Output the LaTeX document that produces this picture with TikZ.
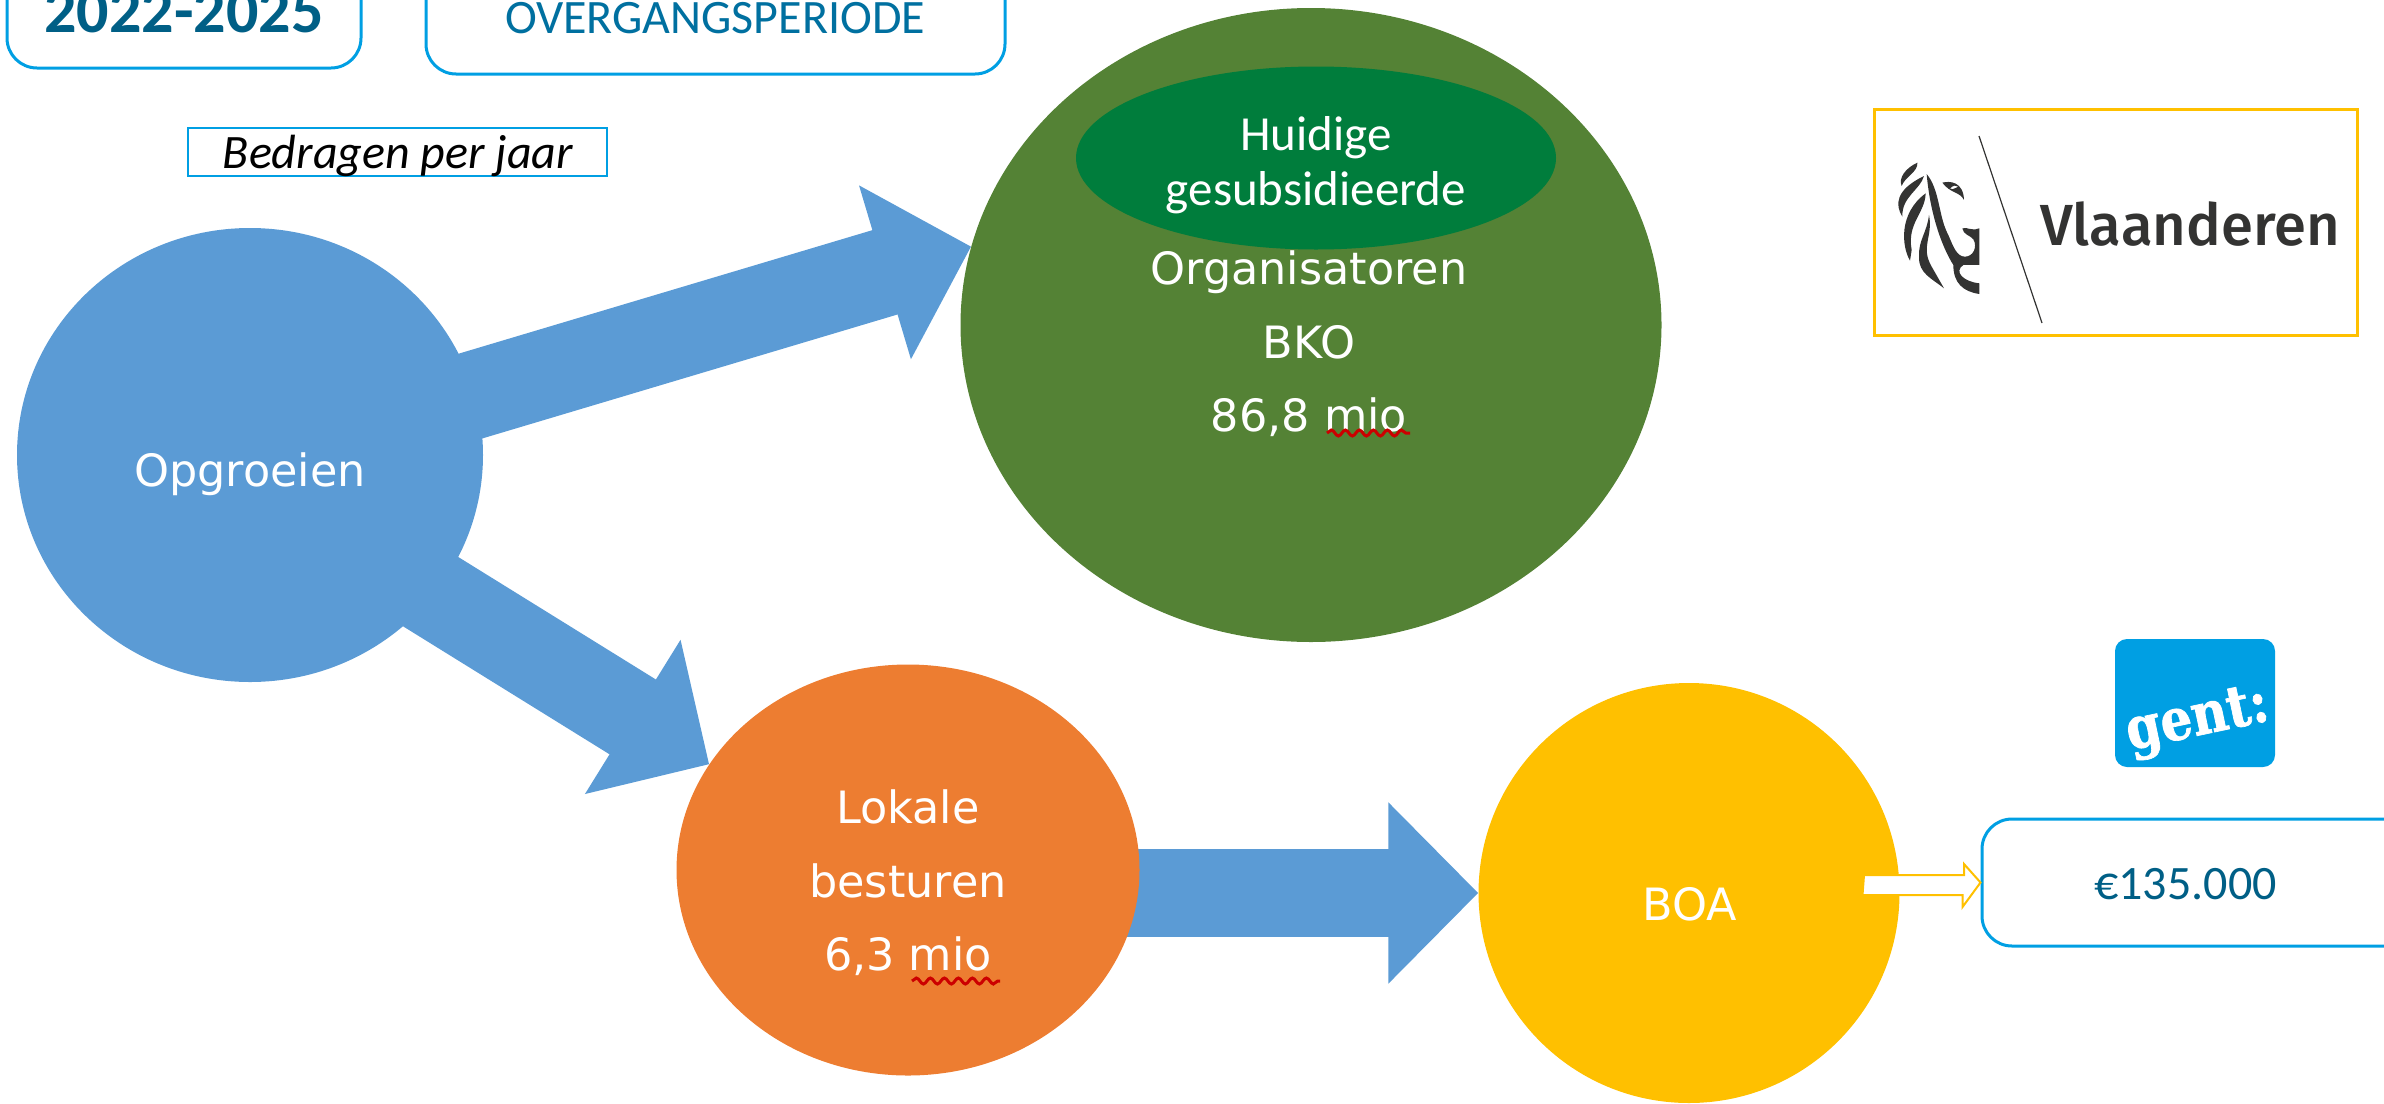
\documentclass[tikz,border=0pt]{standalone}
\usepackage{fontspec}
\setmainfont{Carlito}
\newfontfamily\verdanafont{DejaVu Sans}
\newfontfamily\logofont{Fira Sans}[UprightFont=* Medium]
\newfontfamily\gentfont{DejaVu Serif}[UprightFont=* Bold,FakeStretch=0.86,FakeBold=1.2]
\usetikzlibrary{arrows.meta,shapes.geometric,decorations.pathmorphing,backgrounds}
\definecolor{skyblue}{HTML}{5B9BD5}
\definecolor{leafgreen}{HTML}{548235}
\definecolor{darkgreen}{HTML}{007D3C}
\definecolor{carrot}{HTML}{ED7D31}
\definecolor{amber}{HTML}{FFC000}
\definecolor{framecyan}{HTML}{009FE3}
\definecolor{inkblue}{HTML}{005F86}
\definecolor{midblue}{HTML}{0070A0}
\definecolor{lionink}{HTML}{333332}

\begin{document}
\begin{tikzpicture}[x=1pt,y=-1pt,
        blob/.style={ellipse,inner sep=0pt},
        inlabel/.style={align=center,text=white,font=\verdanafont\fontsize{44.5}{73.5}\selectfont},
        blockarrow/.style={draw=skyblue,line width=88pt,shorten <=-30pt,-{Triangle[length=90pt,width=176pt]}},
        framebox/.style={draw=framecyan,line width=3pt,rounded corners=30pt,fill=white},
        spell/.style={draw=red!80!black,line width=3pt,decorate,decoration={snake,amplitude=3pt,segment length=14pt}}]
        \useasboundingbox (0,0) rectangle (2384,1103);
        \clip (0,0) rectangle (2384,1103);
        \node[blob,fill=skyblue,minimum width=466pt,minimum height=454pt] (opgroeien) at (250,455) {};
        \node[blob,fill=leafgreen,minimum width=701pt,minimum height=634pt] (organisatoren) at (1311,325) {};
        \node[blob,fill=darkgreen,minimum width=480pt,minimum height=183pt] (huidige) at (1316,158) {};
        \node[blob,fill=carrot,minimum width=463pt,minimum height=411pt] (lokale) at (908,870) {};
        \node[blob,fill=amber,minimum width=421pt,minimum height=420pt] (boa) at (1689,893) {};

        \begin{scope}[on background layer]
            \draw[blockarrow] (opgroeien.15) -- (organisatoren.167);
            \draw[blockarrow] (opgroeien.-37) -- (lokale.152);
            \draw[blockarrow] (lokale.center|-boa.west) -- (boa.west);
        \end{scope}

        \node[inlabel] (opgroeientext) at (250,474) {Opgroeien};
        \node[align=center,text=white,font=\fontsize{49}{55}\selectfont] (huidigetext) at (1316,165) {Huidige\\gesubsidieerde};
        \node[inlabel] (bkotext) at (1309,344) {Organisatoren\\BKO\\86,8 mio};
        \node[inlabel] (lokaletext) at (908,883) {Lokale\\besturen\\6,3 mio};
        \node[inlabel] (boatext) at (1690,904) {BOA};
        \draw[spell] (1327,433) -- (1410,433);
        \draw[spell] (912,981) -- (1000,981);

        \node[framebox,minimum width=354pt,minimum height=120pt] (period) at (184,8) {};
        \node[framebox,minimum width=579pt,minimum height=120pt] (transition) at (715.5,14) {};
        \node[text=inkblue,font=\bfseries\fontsize{64}{64}\selectfont,anchor=base] (periodtext) at (184,32) {2022-2025};
        \node[text=midblue,font=\fontsize{48}{48}\selectfont,anchor=base] (transitiontext) at (715,33) {OVERGANGSPERIODE};
        \node[draw=framecyan,line width=2.5pt,minimum width=419pt,minimum height=48pt,inner sep=0pt] (perjaar) at (397.5,152) {};
        \node[font=\itshape\fontsize{48}{48}\selectfont,anchor=base] (perjaartext) at (398,168) {Bedragen per jaar};

        \node[framebox,minimum width=440pt,minimum height=127pt] (bedrag) at (2202,882.5) {};
        \node[text=inkblue,font=\fontsize{48}{48}\selectfont,anchor=base] (bedragtext) at (2185.5,899) {€135.000};
        \coordinate (boaout) at (1864,885);
        \draw[amber,line width=2pt,fill=white] (boaout) ++(0,-10) -- ++(100,0) -- ++(0,-11) -- (bedrag.west) -- ++(-18,24.5) -- ++(0,-12) -- ++(-100,0) -- cycle;

        \node[draw=amber,line width=3pt,minimum width=483pt,minimum height=226pt,inner sep=0pt] (vlaanderen) at (2115.5,222) {};
        \coordinate (slashtop) at (1979,136);
        \coordinate (slashend) at (2042,323);
        \draw[lionink,line width=1.2pt] (slashtop) -- (slashend);
        \node[text=lionink,font=\logofont\fontsize{58}{58}\selectfont,anchor=base] (vlaanderentext) at (2190,245) {Vlaanderen};
        \begin{scope}[shift={(1885,150)},x=0.3333pt,y=-0.3333pt]
            \fill[lionink] (97,38) .. controls (100,65) and (60,80) .. (50,108) .. controls (40,85) and (60,55) .. (97,38) -- cycle;
            \fill[lionink] (117,78) .. controls (105,120) and (50,140) .. (52,200) .. controls (30,165) and (30,120) .. (117,78) -- cycle;
            \fill[lionink] (122,130) .. controls (120,190) and (65,220) .. (80,300) -- (75,332) .. controls (50,290) and (40,190) .. (122,130) -- cycle;
            \fill[lionink] (132,195) .. controls (145,260) and (105,290) .. (140,350) -- (177,415) .. controls (140,385) and (100,370) .. (102,320) .. controls (100,270) and (125,250) .. (132,195) -- cycle;
            \fill[lionink] (125,72) .. controls (165,120) and (160,200) .. (190,255) .. controls (205,290) and (215,320) .. (240,320) .. controls (265,320) and (278,290) .. (265,268) .. controls (255,255) and (235,255) .. (232,235) .. controls (245,230) and (265,245) .. (283,235) -- (283,345) -- (235,345) .. controls (205,365) and (235,395) .. (283,400) -- (283,432) .. controls (235,425) and (205,400) .. (205,345) .. controls (170,290) and (135,190) .. (125,72) -- cycle;
            \fill[lionink,even odd rule] (172,98) .. controls (195,92) and (235,95) .. (237,150) .. controls (225,125) and (195,130) .. (172,98) -- cycle (195,115) .. controls (205,105) and (215,105) .. (220,110) .. controls (210,112) and (205,122) .. (195,115) -- cycle;
        \end{scope}

        \node[fill=framecyan,rounded corners=12pt,minimum width=160pt,minimum height=128pt,inner sep=0pt] (gentlogo) at (2195,703) {};
        \node[text=white,rotate=12,font=\gentfont\fontsize{58}{58}\selectfont] (genttext) at (2198,722) {gent:};
    \end{tikzpicture}
\end{document}
